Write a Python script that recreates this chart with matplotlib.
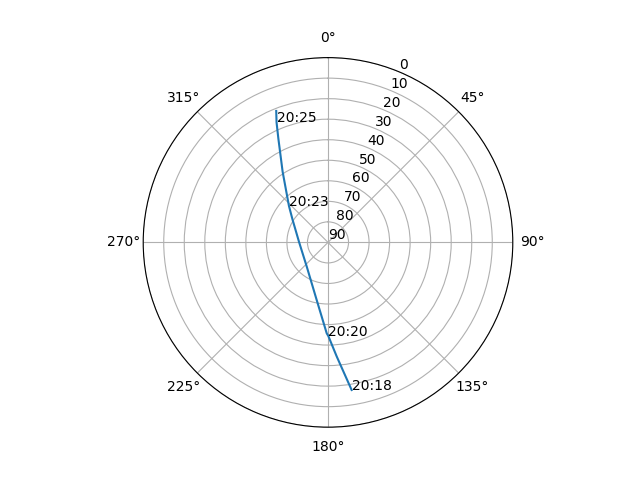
import numpy as np
import matplotlib
matplotlib.use("Agg")
import matplotlib.pyplot as plt

# Satellite track (azimuth deg, elevation deg)
azimuth = [170.9, 175.6, 179.8, 180.8, 191.1, 221.2, 270.8, 302.4, 313.0, 327.3, 334.5, 336.8, 338.5]
elevation = [17.2, 34.2, 44.4, 45.7, 61.4, 74.3, 75.9, 69.6, 64.0, 49.1, 33.8, 26.4, 21.2]

# Time labels
label_times = ["20:18", "20:20", "20:23", "20:25"]
label_az = [170.9, 179.8, 313.0, 336.8]
label_el = [17.2, 44.4, 64.0, 26.4]

fig = plt.figure(figsize=(6.4, 4.8), dpi=100)
ax = fig.add_subplot(111, projection="polar")
ax.set_theta_zero_location("N")
ax.set_theta_direction(-1)
ax.plot(np.radians(azimuth), elevation)
for t, a, e in zip(label_times, label_az, label_el):
    ax.text(np.radians(a), e, t)
ax.set_yticks(range(0, 91, 10))
ax.set_ylim(90, 0)
fig.savefig("out.png")
